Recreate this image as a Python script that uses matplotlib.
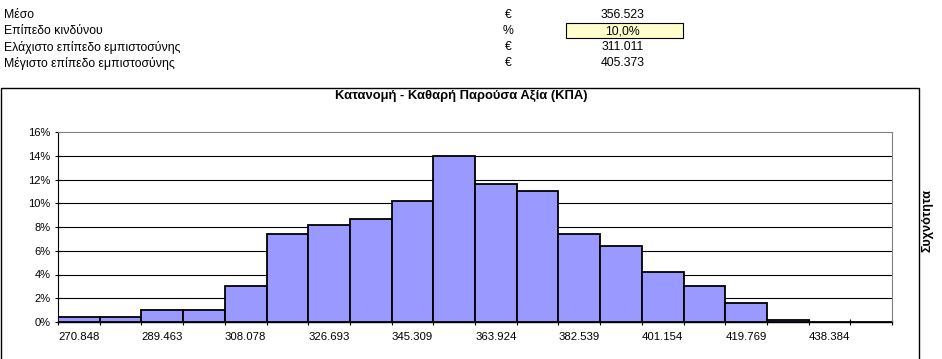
import matplotlib
matplotlib.use("Agg")
import matplotlib.pyplot as plt
from matplotlib.patches import Rectangle
import numpy as np

plt.rcParams['font.family'] = ['Liberation Sans', 'DejaVu Sans']

# ---- data ----
info_labels = ["Μέσο", "Επίπεδο κινδύνου", "Ελάχιστο επίπεδο εμπιστοσύνης", "Μέγιστο επίπεδο εμπιστοσύνης"]
info_units = ["€", "%", "€", "€"]
info_values = ["356.523", "10,0%", "311.011", "405.373"]

freq = [0.4, 0.4, 1.0, 1.0, 3.0, 7.4, 8.2, 8.7, 10.2, 14.0,
        11.6, 11.0, 7.4, 6.4, 4.2, 3.0, 1.6, 0.15, 0.0, 0.0]  # percent
tick_labels = ["270.848", "289.463", "308.078", "326.693", "345.309",
               "363.924", "382.539", "401.154", "419.769", "438.384"]
yticks = [0, 2, 4, 6, 8, 10, 12, 14, 16]

title = "Κατανομή - Καθαρή Παρούσα Αξία (ΚΠΑ)"
ylabel = "Συχνότητα"

W, H = 942, 359
fig = plt.figure(figsize=(W / 100, H / 100), dpi=100)
fig.patch.set_facecolor("white")

def fx(px):
    return px / W

def fy(py):
    return 1 - py / H

# header table
rows_y = [15, 31, 47, 63]
for i, (lab, unit, val) in enumerate(zip(info_labels, info_units, info_values)):
    y = fy(rows_y[i])
    fig.text(fx(4), y, lab, fontsize=8.8, va="center", ha="left")
    fig.text(fx(508), y, unit, fontsize=8.8, va="center", ha="center")
    if i == 1:
        fig.patches.append(Rectangle((fx(566), fy(37.5)), fx(683) - fx(566), fy(23) - fy(37.5),
                                     transform=fig.transFigure, facecolor="#FFFFCC",
                                     edgecolor="black", linewidth=0.8))
    fig.text(fx(623), y, val, fontsize=8.8, va="center", ha="center")

# chart border
fig.patches.append(Rectangle((fx(1), fy(400)), fx(919) - fx(1), fy(88) - fy(400),
                             transform=fig.transFigure, facecolor="none",
                             edgecolor="black", linewidth=1.0, clip_on=False))

fig.text(fx(461), fy(96), title, fontsize=9.4, fontweight="bold", ha="center", va="center")
fig.text(fx(928), fy(221), ylabel, fontsize=9.1, fontweight="bold", ha="center",
         va="center", rotation=90)

ax = fig.add_axes([fx(58), fy(322), fx(892) - fx(58), fy(132) - fy(322)])
ax.set_facecolor("white")
x = np.arange(len(freq))
ax.bar(x, freq, width=1.0, align="edge", color="#9999FF", edgecolor="black",
       linewidth=1.3, zorder=3)
ax.set_xlim(0, len(freq))
ax.set_ylim(0, 16)
ax.set_yticks(yticks)
ax.set_yticklabels([f"{v}%" for v in yticks], fontsize=8)
for v in yticks[1:-1]:
    ax.axhline(v, color="black", linewidth=0.8, zorder=1)

ax.set_xticks(np.arange(len(freq) + 1))
ax.set_xticklabels([])
ax.set_xticks(np.arange(len(tick_labels)) * 2 + 0.5, minor=True)
ax.set_xticklabels(tick_labels, minor=True, fontsize=8.2)
ax.tick_params(axis="x", which="major", direction="inout", length=5, width=0.8)
ax.tick_params(axis="x", which="minor", length=0, pad=7)
ax.tick_params(axis="y", direction="inout", length=5, width=0.8, pad=3)

for s in ["top", "right"]:
    ax.spines[s].set_color("#808080")
    ax.spines[s].set_linewidth(0.8)
ax.spines["left"].set_linewidth(0.8)
ax.spines["bottom"].set_linewidth(1.0)

fig.savefig("out.png", dpi=100)
